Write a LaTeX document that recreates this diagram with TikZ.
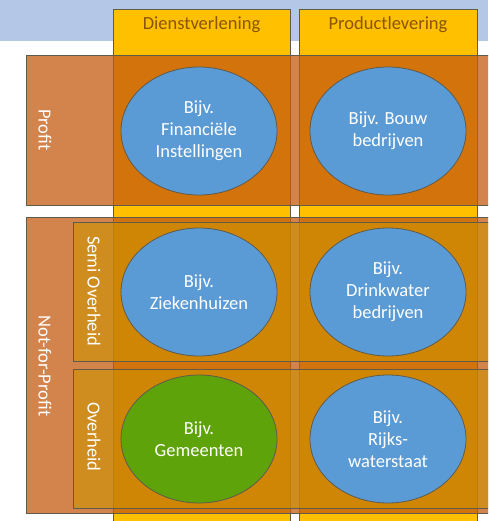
\documentclass[tikz,border=0pt]{standalone}
\usepackage{fontspec}
\setmainfont{Carlito}
\usepackage{tikz}
\usetikzlibrary{shapes.geometric}

\definecolor{bandblue}{HTML}{B4C7E7}
\definecolor{colyellow}{HTML}{FFC000}
\definecolor{rowgold}{HTML}{CC9400}
\definecolor{roworange}{HTML}{C55A11}
\definecolor{cellblue}{HTML}{5B9BD5}
\definecolor{cellgreen}{HTML}{5FA30A}
\definecolor{edgegray}{HTML}{5E5A4C}
\definecolor{headbrown}{HTML}{8A5508}

\tikzset{
    txt/.style={font=\fontsize{18.5}{22}\selectfont, align=center},
    colbox/.style={fill=colyellow, draw=edgegray, line width=0.8pt},
    rowband/.style={fill=roworange, fill opacity=0.75, draw=edgegray, line width=0.8pt},
    subband/.style={fill=rowgold, fill opacity=0.6, draw=edgegray, line width=0.8pt},
    cell/.style={ellipse, draw=edgegray, line width=0.8pt, fill=cellblue,
        minimum width=156pt, minimum height=128pt, inner sep=0pt,
        txt, text=white},
    sidelabel/.style={txt, text=white, rotate=-90}
}

\begin{document}
\begin{tikzpicture}[x=1pt, y=-1pt]
    \clip (0,0) rectangle (488,521);
    \fill[white] (0,0) rectangle (488,521);
    \fill[bandblue] (0,0) rectangle (488,41);

    \draw[colbox] (113,9) rectangle (290,530);
    \draw[colbox] (299,9) rectangle (477,530);

    \node[txt, text=headbrown] (dienst) at (201.5,25) {Dienstverlening};
    \node[txt, text=headbrown] (product) at (388,25) {Productlevering};

    \draw[rowband] (26,55) rectangle (500,205);
    \draw[rowband] (26,217) rectangle (500,513);
    \draw[subband] (73,222) rectangle (500,361);
    \draw[subband] (73,369) rectangle (500,508);

    \node[sidelabel] (profit) at (45,130) {Profit};
    \node[sidelabel] (nfp) at (45,366) {Not-for-Profit};
    \node[sidelabel] (semi) at (94,291) {Semi Overheid};
    \node[sidelabel] (overheid) at (94,437) {Overheid};

    \node[cell] (fin) at (199,131) {Bijv.\\Financiële\\Instellingen};
    \node[cell] (bouw) at (388,131) {Bijv. Bouw\\bedrijven};
    \node[cell] (zieken) at (199,292) {Bijv.\\Ziekenhuizen};
    \node[cell] (drink) at (388,292) {Bijv.\\Drinkwater\\bedrijven};
    \node[cell, fill=cellgreen] (gem) at (199,439) {Bijv.\\Gemeenten};
    \node[cell] (rijks) at (388,439) {Bijv.\\Rijks-\\waterstaat};
\end{tikzpicture}
\end{document}
